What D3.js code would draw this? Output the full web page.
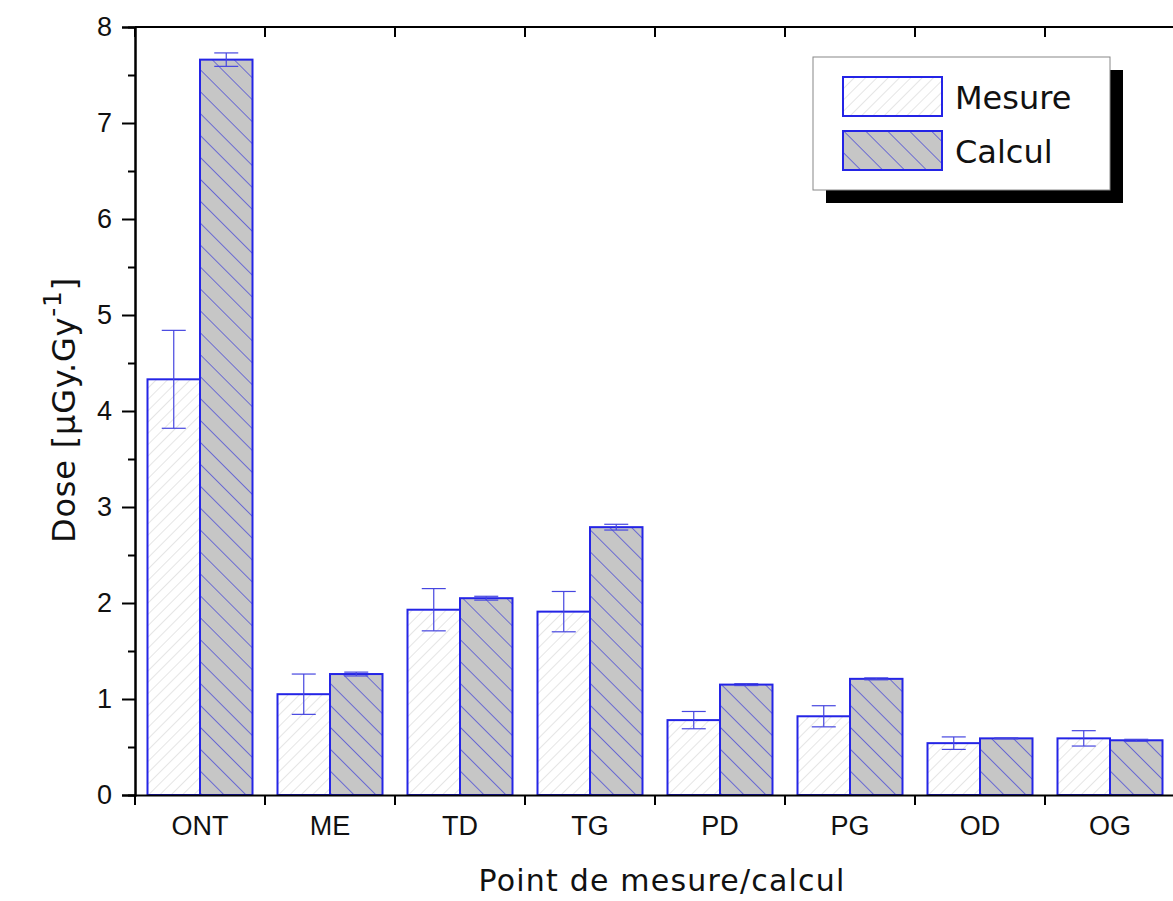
<!DOCTYPE html>
<html>
<head>
<meta charset="utf-8">
<script src="https://cdn.jsdelivr.net/npm/d3@7"></script>
<style>
  body { margin: 0; background: #fff; }
  .tick text { font-family: 'Liberation Sans', Arial, sans-serif; font-size: 27px; fill: #111; }
</style>
</head>
<body>
<div id="chart"></div>
<script>
// points de mesure
const points = ['ONT', 'ME', 'TD', 'TG', 'PD', 'PG', 'OD', 'OG']
const series = ['Mesure', 'Calcul']
const mesure = [4.33, 1.05, 1.93, 1.91, 0.78, 0.82, 0.54, 0.59]
const mesureErr = [0.51, 0.21, 0.22, 0.21, 0.09, 0.11, 0.065, 0.08]
const calcul = [7.66, 1.26, 2.05, 2.79, 1.15, 1.21, 0.59, 0.57]
const calculErr = [0.07, 0.02, 0.02, 0.03, 0.01, 0.01, 0.005, 0.01]
const yTicks = [0, 1, 2, 3, 4, 5, 6, 7, 8]

const margin = { top: 27, right: -2, bottom: 106, left: 135 }
const width = 1173 - margin.left - margin.right
const height = 901 - margin.top - margin.bottom

const svg = d3
  .select('#chart')
  .append('svg')
  .attr('width', 1173)
  .attr('height', 901)

const defs = svg.append('defs')

// hachures
const hatchM = defs.append('pattern')
  .attr('id', 'hatch-mesure')
  .attr('patternUnits', 'userSpaceOnUse')
  .attr('width', 8).attr('height', 8)
  .attr('patternTransform', 'rotate(45)')
hatchM.append('rect').attr('width', 8).attr('height', 8).attr('fill', '#fff')
hatchM.append('line').attr('x1', 0).attr('y1', 0).attr('x2', 0).attr('y2', 8)
  .attr('stroke', '#d4d4d4').attr('stroke-width', 1.2)

const hatchC = defs.append('pattern')
  .attr('id', 'hatch-calcul')
  .attr('patternUnits', 'userSpaceOnUse')
  .attr('width', 15.5).attr('height', 15.5)
  .attr('patternTransform', 'rotate(-45)')
hatchC.append('rect').attr('width', 15.5).attr('height', 15.5).attr('fill', '#c6c6c6')
hatchC.append('line').attr('x1', 0).attr('y1', 0).attr('x2', 0).attr('y2', 15.5)
  .attr('stroke', '#3a3ad8').attr('stroke-width', 1.3)

const fills = { Mesure: 'url(#hatch-mesure)', Calcul: 'url(#hatch-calcul)' }

const g = svg.append('g')
  .attr('transform', 'translate(' + margin.left + ',' + margin.top + ')')

const xPositionScale = d3.scaleBand()
  .domain(points)
  .range([0, width])
  .paddingInner(0)
  .paddingOuter(0)

const xSub = d3.scaleBand()
  .domain(series)
  .range([12.5, xPositionScale.bandwidth() - 12.5])

const yPositionScale = d3.scaleLinear()
  .domain([0, 8])
  .range([height, 0])

const datapoints = points.map((p, i) => ({
  point: p,
  values: [
    { key: 'Mesure', value: mesure[i], err: mesureErr[i] },
    { key: 'Calcul', value: calcul[i], err: calculErr[i] }
  ]
}))

// barres
const groups = g.selectAll('.group')
  .data(datapoints)
  .enter()
  .append('g')
  .attr('class', 'group')
  .attr('transform', d => 'translate(' + xPositionScale(d.point) + ',0)')

groups.selectAll('rect')
  .data(d => d.values)
  .enter()
  .append('rect')
  .attr('x', d => xSub(d.key))
  .attr('y', d => yPositionScale(d.value))
  .attr('width', xSub.bandwidth())
  .attr('height', d => height - yPositionScale(d.value))
  .attr('fill', d => fills[d.key])
  .attr('stroke', '#2424e6')
  .attr('stroke-width', 2)

// barres d'erreur
const errs = groups.selectAll('.err')
  .data(d => d.values)
  .enter()
  .append('g')
  .attr('class', 'err')
  .attr('stroke', '#4646e0')
  .attr('stroke-width', 1.2)

errs.append('line')
  .attr('x1', d => xSub(d.key) + xSub.bandwidth() / 2)
  .attr('x2', d => xSub(d.key) + xSub.bandwidth() / 2)
  .attr('y1', d => yPositionScale(d.value + d.err))
  .attr('y2', d => yPositionScale(d.value - d.err))

errs.selectAll('.cap')
  .data(d => [d.value + d.err, d.value - d.err].map(v => ({ key: d.key, v: v })))
  .enter()
  .append('line')
  .attr('class', 'cap')
  .attr('x1', d => xSub(d.key) + xSub.bandwidth() / 2 - 12)
  .attr('x2', d => xSub(d.key) + xSub.bandwidth() / 2 + 12)
  .attr('y1', d => yPositionScale(d.v))
  .attr('y2', d => yPositionScale(d.v))

// axes
const minorTicks = d3.range(0.5, 8, 1)

const yAxis = d3.axisLeft(yPositionScale).tickValues(yTicks).tickSize(13).tickPadding(10)
g.append('g').attr('class', 'axis y-axis').call(yAxis)
g.append('g').attr('class', 'axis y-minor')
  .call(d3.axisLeft(yPositionScale).tickValues(minorTicks).tickSize(7).tickFormat(''))

const yRight = d3.axisLeft(yPositionScale).tickValues(yTicks).tickSize(-14).tickFormat('')
g.append('g').attr('class', 'axis y-right')
  .attr('transform', 'translate(' + width + ',0)')
  .call(yRight)
g.append('g').attr('class', 'axis y-right-minor')
  .attr('transform', 'translate(' + width + ',0)')
  .call(d3.axisLeft(yPositionScale).tickValues(minorTicks).tickSize(-5).tickFormat(''))

const bounds = points.map(p => xPositionScale(p)).concat([width])
const xAxis = d3.axisBottom(xPositionScale).tickSize(0).tickPadding(21)
g.append('g').attr('class', 'axis x-axis')
  .attr('transform', 'translate(0,' + height + ')')
  .call(xAxis)
g.append('g').attr('class', 'x-ticks')
  .attr('transform', 'translate(0,' + height + ')')
  .selectAll('line')
  .data(bounds)
  .enter()
  .append('line')
  .attr('x1', d => d).attr('x2', d => d)
  .attr('y1', 0).attr('y2', 10)
  .attr('stroke', '#000').attr('stroke-width', 2)

g.append('g').attr('class', 'x-top')
  .selectAll('line')
  .data(bounds)
  .enter()
  .append('line')
  .attr('x1', d => d).attr('x2', d => d)
  .attr('y1', 0).attr('y2', 10)
  .attr('stroke', '#000').attr('stroke-width', 2)

g.append('line').attr('x1', 0).attr('x2', width).attr('y1', 0).attr('y2', 0)
  .attr('stroke', '#000').attr('stroke-width', 2)

g.selectAll('.axis .domain').attr('stroke', '#000').attr('stroke-width', 2)
g.selectAll('.axis .tick line').attr('stroke', '#000').attr('stroke-width', 2)

// titres
svg.append('text')
  .attr('x', 662)
  .attr('y', 891)
  .attr('text-anchor', 'middle')
  .attr('font-family', 'DejaVu Sans, sans-serif')
  .attr('font-size', 30)
  .attr('letter-spacing', 1.2)
  .attr('fill', '#111')
  .text('Point de mesure/calcul')

const yTitle = svg.append('text')
  .attr('transform', 'translate(75,' + 410 + ') rotate(-90)')
  .attr('text-anchor', 'middle')
  .attr('font-family', 'DejaVu Sans, sans-serif')
  .attr('font-size', 32)
  .attr('letter-spacing', 0.8)
  .attr('fill', '#111')
yTitle.append('tspan').text('Dose [µGy.Gy')
yTitle.append('tspan').attr('dy', -14).attr('font-size', 25).text('-1')
yTitle.append('tspan').attr('dy', 14).text(']')

// légende
const legend = svg.append('g').attr('transform', 'translate(813,57)')
legend.append('rect').attr('x', 13).attr('y', 13).attr('width', 297).attr('height', 133).attr('fill', '#000')
legend.append('rect').attr('width', 297).attr('height', 133).attr('fill', '#fff')
  .attr('stroke', '#888').attr('stroke-width', 1)

const items = legend.selectAll('.item')
  .data(series)
  .enter()
  .append('g')
  .attr('class', 'item')
  .attr('transform', (d, i) => 'translate(30,' + (20 + i * 54) + ')')

items.append('rect')
  .attr('width', 99).attr('height', 39)
  .attr('fill', d => fills[d])
  .attr('stroke', '#2424e6').attr('stroke-width', 2)

items.append('text')
  .attr('x', 112).attr('y', 32)
  .attr('font-family', 'DejaVu Sans, sans-serif')
  .attr('font-size', 32)
  .attr('fill', '#111')
  .text(d => d)
</script>
</body>
</html>
